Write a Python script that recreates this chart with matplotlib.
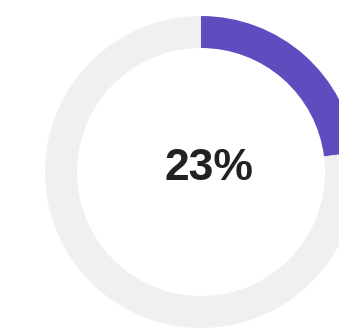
import matplotlib
matplotlib.use("Agg")
import matplotlib.pyplot as plt

labels = ["Done", "Remaining"]
values = [23, 77]
colors = ["#5e4dbf", "#f0f0f0"]

W, H = 339, 330
fig = plt.figure(figsize=(W / 100, H / 100), dpi=100)
ax = fig.add_axes([0, 0, 1, 1])

# axes in pixel units, origin bottom-left
cx, cy = 201, H - 172
ax.pie(values, colors=colors, startangle=90, counterclock=False,
       center=(cx, cy), radius=156, frame=True,
       wedgeprops=dict(width=32, linewidth=0))

ax.text(209, H - 168, f"{values[0]}%", ha="center", va="center",
        fontsize=32, fontweight="bold", color="#222222",
        family="Liberation Sans")

ax.set_xlim(0, W)
ax.set_ylim(0, H)
ax.set_aspect("equal")
ax.set_axis_off()

fig.savefig("out.png", dpi=100)
